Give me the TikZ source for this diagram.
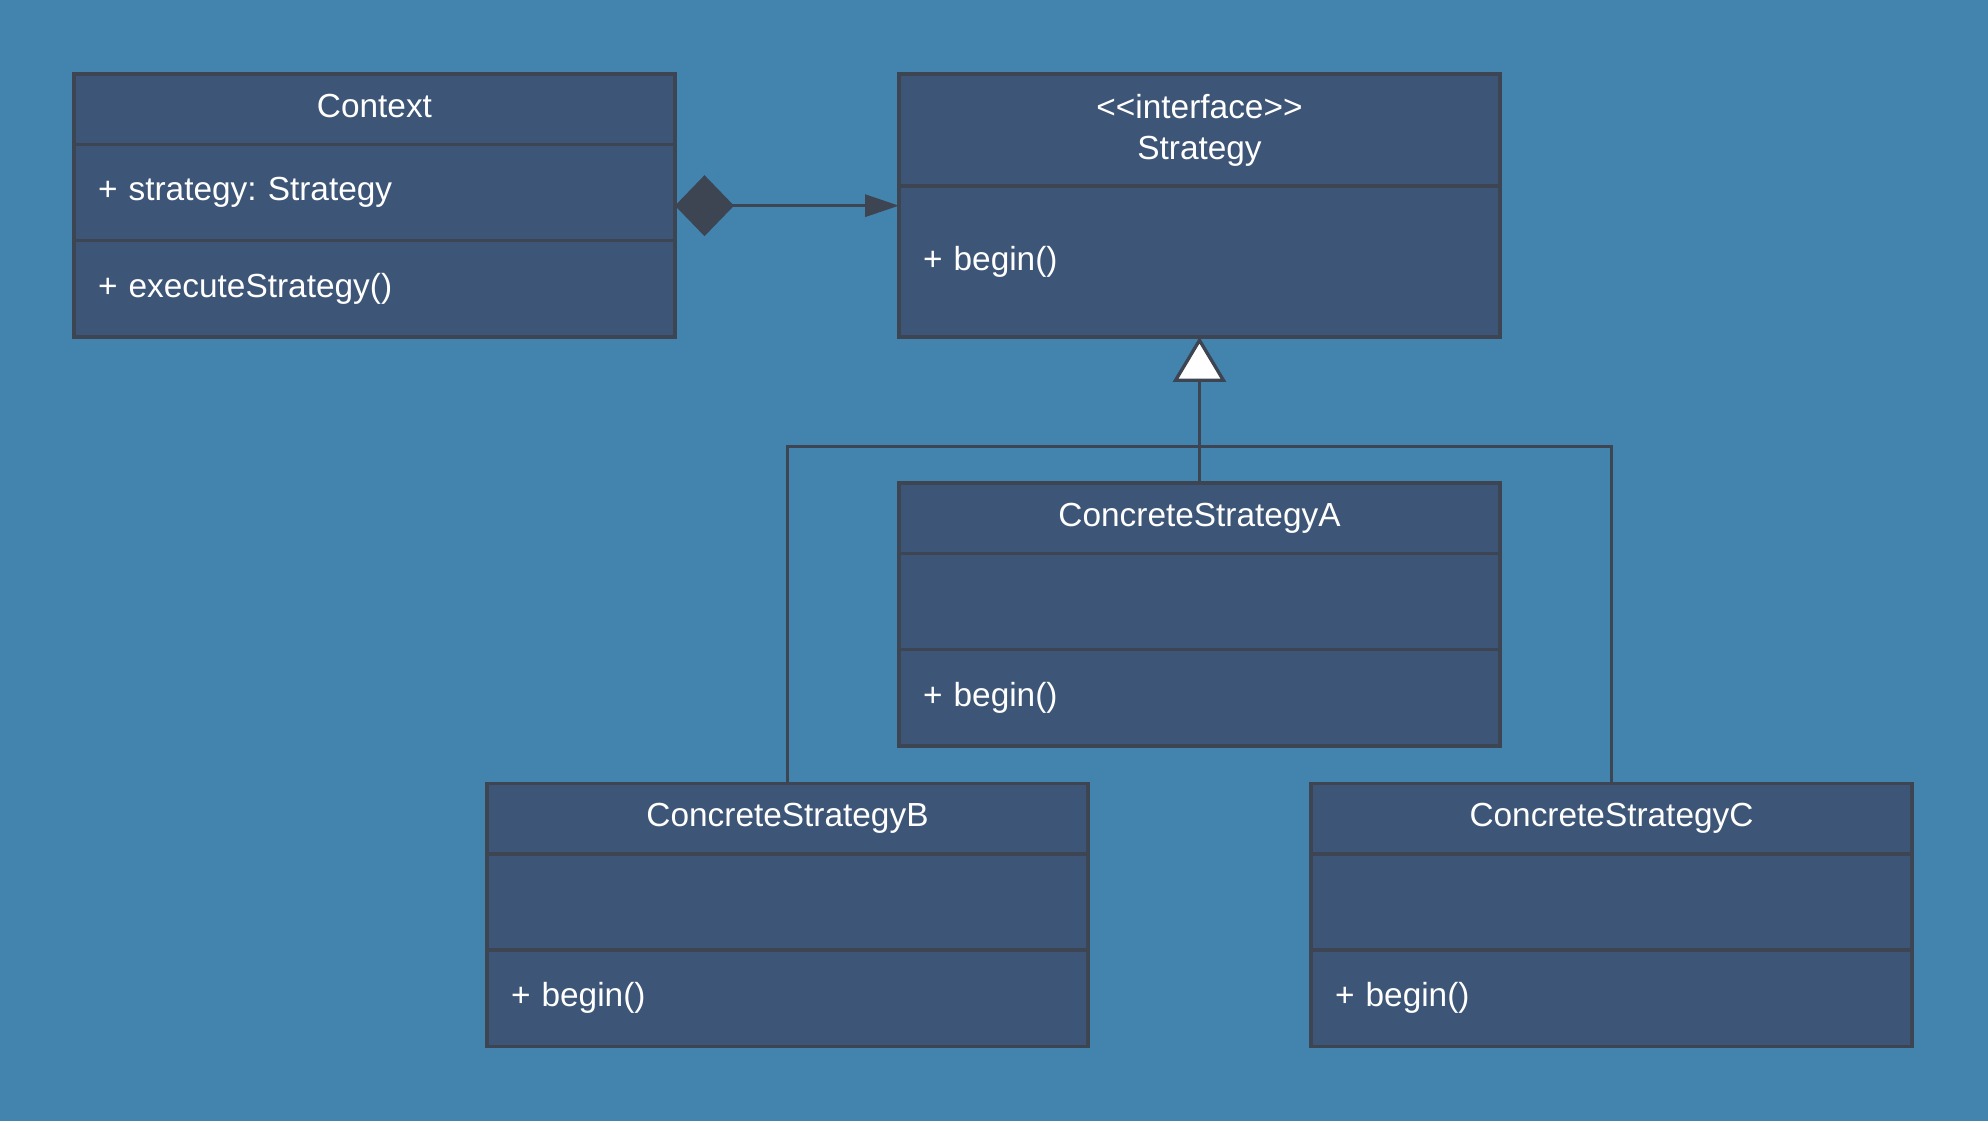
\documentclass[tikz,border=0pt]{standalone}
\usepackage{fontspec}
\setmainfont{Liberation Sans}
\usetikzlibrary{positioning,arrows.meta}
\definecolor{bgblue}{RGB}{67,132,175}
\definecolor{boxblue}{RGB}{61,85,118}
\definecolor{edgegray}{RGB}{62,69,82}
\frenchspacing

\begin{document}
\begin{tikzpicture}[line width=0.95pt, font=\fontsize{9.5}{11.6}\selectfont]
        \tikzstyle{compart}=[draw=edgegray, fill=boxblue, text=white, outer sep=0pt, inner ysep=0pt, minimum width=6.01cm]
        \tikzstyle{classname}=[compart, minimum height=0.705cm, text width=5.81cm, inner xsep=0.1cm, align=center]
        \tikzstyle{members}=[compart, minimum height=0.96cm, text width=5.53cm, inner xsep=0.24cm, align=left]
        \tikzstyle{methods}=[members, minimum height=0.965cm]
        \tikzstyle{link}=[draw=edgegray]
        \fill[bgblue] (0,0) rectangle (19.88,-11.21);
        \useasboundingbox (0,0) rectangle (19.88,-11.21);
        % context
        \node[classname, text depth=0.07cm, anchor=north west] (ctxname) at (0.74,-0.74) {Context};
        \node[members, below=0pt of ctxname] (ctxattr) {+ strategy: Strategy};
        \node[methods, below=0pt of ctxattr] (ctxops) {+ executeStrategy()};
        % interface
        \node[classname, minimum height=1.12cm, anchor=north west] (strname) at (8.99,-0.74) {<{}<interface>{}>\\Strategy};
        \node[members, minimum height=1.51cm, below=0pt of strname] (strbody) {+ begin()};
        % concrete strategies
        \node[classname, anchor=north west] (aname) at (8.99,-4.83) {ConcreteStrategyA};
        \node[members, below=0pt of aname] (aattr) {};
        \node[methods, below=0pt of aattr] (aops) {+ begin()};
        \node[classname, anchor=north west] (bname) at (4.87,-7.835) {ConcreteStrategyB};
        \node[members, below=0pt of bname] (battr) {};
        \node[methods, below=0pt of battr] (bops) {+ begin()};
        \node[classname, anchor=north west] (cname) at (13.11,-7.835) {ConcreteStrategyC};
        \node[members, below=0pt of cname] (cattr) {};
        \node[methods, below=0pt of cattr] (cops) {+ begin()};
        \coordinate[above=0.363cm of aname.north] (fork);
        \coordinate (aggstart) at ([yshift=-1.32mm]ctxattr.east);
        \path
        (aggstart) edge[link, {Diamond[length=5.9mm,width=6.1mm]}-{Triangle[length=3.4mm,width=2.2mm]}] (aggstart -| strbody.west)
        (aname.north) edge[link, -{Triangle[open,length=4.5mm,width=5.3mm,fill=white]}] (strbody.south);
        \draw[link] (bname.north) |- (fork) -| (cname.north);
\end{tikzpicture}
\end{document}
